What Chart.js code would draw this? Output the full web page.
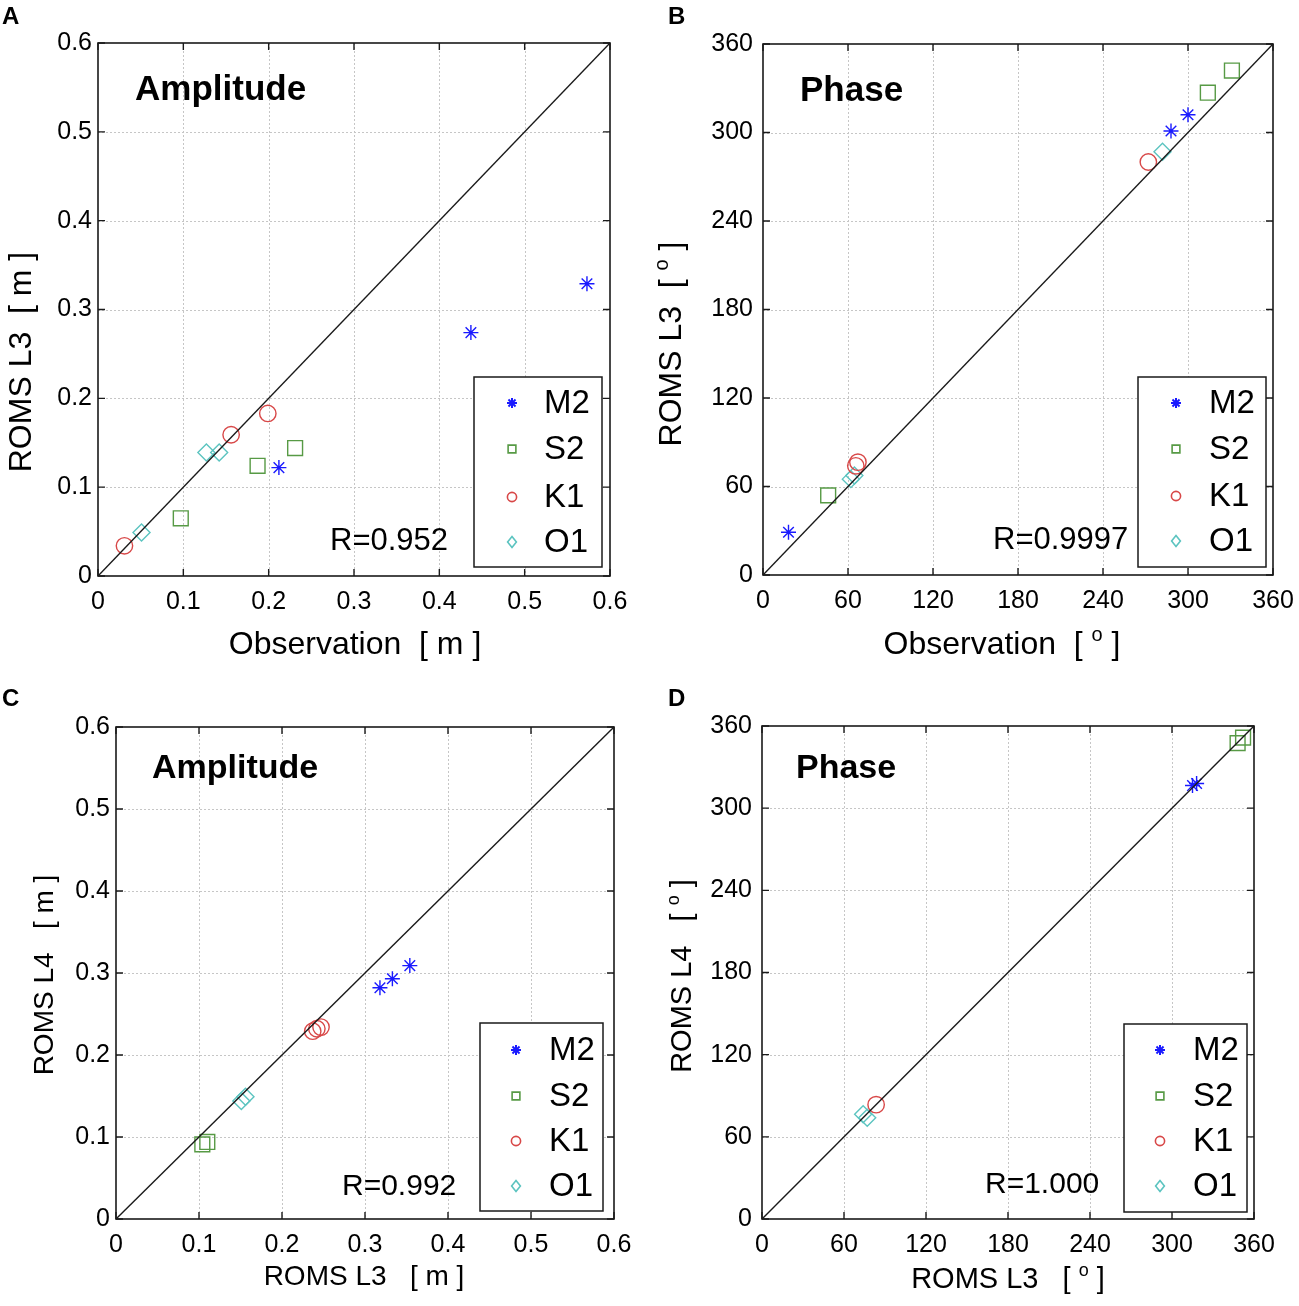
<!DOCTYPE html>
<html>
<head>
<meta charset="utf-8">
<script src="https://cdn.jsdelivr.net/npm/chart.js@4.4.1/dist/chart.umd.min.js"></script>
<style>
html,body{margin:0;padding:0;background:#fff;overflow:hidden;}
#wrap{position:relative;width:1299px;height:1306px;overflow:hidden;background:#fff;}
canvas{position:absolute;left:0;top:0;}
</style>
</head>
<body>
<div id="wrap">
<canvas id="cA" width="1400" height="1306"></canvas>
<canvas id="cB" width="1400" height="1306"></canvas>
<canvas id="cC" width="1400" height="1306"></canvas>
<canvas id="cD" width="1400" height="1306"></canvas>
</div>
<script>
const FONT = "'Liberation Sans', Arial, Helvetica, sans-serif";

// ---------- shared labels / ranges ----------
const constituents = ['M2', 'S2', 'K1', 'O1'];
const ampTickLabels = ['0', '0.1', '0.2', '0.3', '0.4', '0.5', '0.6'];
const phaseTickLabels = ['0', '60', '120', '180', '240', '300', '360'];
const ampRange = [0, 0.6];
const phaseRange = [0, 360];

// ---------- Panel A: amplitude, Observation vs ROMS L3 [m] ----------
const aM2x = [0.212, 0.437, 0.573];
const aM2y = [0.122, 0.274, 0.329];
const aS2x = [0.097, 0.187, 0.231];
const aS2y = [0.065, 0.124, 0.144];
const aK1x = [0.031, 0.156, 0.199];
const aK1y = [0.034, 0.159, 0.183];
const aO1x = [0.051, 0.127, 0.142];
const aO1y = [0.049, 0.139, 0.139];

// ---------- Panel B: phase, Observation vs ROMS L3 [deg] ----------
const bM2x = [18, 288, 300];
const bM2y = [29, 301, 312];
const bS2x = [46, 314, 331];
const bS2y = [54, 327, 342];
const bK1x = [65.5, 67, 272];
const bK1y = [74, 76.5, 280];
const bO1x = [62, 64.5, 282];
const bO1y = [65, 67.5, 287];

// ---------- Panel C: amplitude, ROMS L3 vs ROMS L4 [m] ----------
const cM2x = [0.318, 0.333, 0.354];
const cM2y = [0.282, 0.293, 0.309];
const cS2x = [0.104, 0.110];
const cS2y = [0.091, 0.094];
const cK1x = [0.237, 0.242, 0.247];
const cK1y = [0.229, 0.232, 0.234];
const cO1x = [0.151, 0.156];
const cO1y = [0.144, 0.149];

// ---------- Panel D: phase, ROMS L3 vs ROMS L4 [deg] ----------
const dM2x = [315, 318];
const dM2y = [316.5, 318];
const dS2x = [348, 352];
const dS2y = [347.5, 351.5];
const dK1x = [83.5];
const dK1y = [83.5];
const dO1x = [74, 77];
const dO1y = [76.5, 74];

const rValues = ['R=0.952', 'R=0.9997', 'R=0.992', 'R=1.000'];

// ---------- styles ----------
const STYLE = {
  M2: {color: '#1a1aff', pointStyle: 'star',    radius: 7.5, legR: 5},
  S2: {color: '#579a45', pointStyle: 'rect',    radius: 10.5, legR: 5.5},
  K1: {color: '#d84848', pointStyle: 'circle',  radius: 8.2, legR: 4.6},
  O1: {color: '#5cc4c0', pointStyle: 'rectRot', radius: 8.5, legR: 5.5}
};

function pts(xs, ys) { return xs.map((v, i) => ({x: v, y: ys[i]})); }

function drawMarker(ctx, style, r, x, y) {
  ctx.beginPath();
  if (style === 'star') {
    for (let k = 0; k < 4; k++) {
      const ang = k * Math.PI / 4;
      ctx.moveTo(x - r * Math.cos(ang), y - r * Math.sin(ang));
      ctx.lineTo(x + r * Math.cos(ang), y + r * Math.sin(ang));
    }
  } else if (style === 'rect') {
    const s = r * Math.SQRT1_2;
    ctx.rect(x - s, y - s, 2 * s, 2 * s);
  } else if (style === 'circle') {
    ctx.arc(x, y, r, 0, Math.PI * 2);
  } else {
    ctx.moveTo(x, y - r); ctx.lineTo(x + r * 0.8, y); ctx.lineTo(x, y + r); ctx.lineTo(x - r * 0.8, y); ctx.closePath();
  }
  ctx.stroke();
}

// label made of parts: {t, s (font size), dy}
function drawParts(ctx, parts, cx, cy, rot) {
  ctx.save();
  ctx.translate(cx, cy);
  if (rot) ctx.rotate(-Math.PI / 2);
  let total = 0;
  parts.forEach(p => { ctx.font = p.s + 'px ' + FONT; p.w = ctx.measureText(p.t).width; total += p.w; });
  let x = -total / 2;
  ctx.textBaseline = 'middle';
  ctx.textAlign = 'left';
  ctx.fillStyle = '#000';
  parts.forEach(p => { ctx.font = p.s + 'px ' + FONT; ctx.fillText(p.t, x, p.dy || 0); x += p.w; });
  ctx.restore();
}

function makeDecor(cfg) {
  return {
    id: 'decor' + cfg.letter,
    beforeDatasetsDraw(chart) {
      const {ctx, chartArea: a, scales: {x, y}} = chart;
      ctx.save();
      ctx.strokeStyle = '#c6c6c6';
      ctx.lineWidth = 1;
      ctx.setLineDash([2, 2]);
      x.ticks.forEach(t => {
        const px = Math.round(x.getPixelForValue(t.value)) + 0.5;
        if (px > a.left + 2 && px < a.right - 2) { ctx.beginPath(); ctx.moveTo(px, a.top); ctx.lineTo(px, a.bottom); ctx.stroke(); }
      });
      y.ticks.forEach(t => {
        const py = Math.round(y.getPixelForValue(t.value)) + 0.5;
        if (py > a.top + 2 && py < a.bottom - 2) { ctx.beginPath(); ctx.moveTo(a.left, py); ctx.lineTo(a.right, py); ctx.stroke(); }
      });
      ctx.restore();
    },
    afterDraw(chart) {
      const {ctx, chartArea: a, scales: {x, y}} = chart;
      ctx.save();
      // box
      ctx.strokeStyle = '#1a1a1a';
      ctx.lineWidth = 1.6;
      ctx.strokeRect(a.left, a.top, a.right - a.left, a.bottom - a.top);
      // inward ticks
      ctx.lineWidth = 1.4;
      const TL = 7;
      x.ticks.forEach(t => {
        const px = x.getPixelForValue(t.value);
        ctx.beginPath();
        ctx.moveTo(px, a.bottom); ctx.lineTo(px, a.bottom - TL);
        ctx.moveTo(px, a.top); ctx.lineTo(px, a.top + TL);
        ctx.stroke();
      });
      y.ticks.forEach(t => {
        const py = y.getPixelForValue(t.value);
        ctx.beginPath();
        ctx.moveTo(a.left, py); ctx.lineTo(a.left + TL, py);
        ctx.moveTo(a.right, py); ctx.lineTo(a.right - TL, py);
        ctx.stroke();
      });
      // panel letter
      ctx.fillStyle = '#000';
      ctx.textAlign = 'left';
      ctx.textBaseline = 'alphabetic';
      ctx.font = 'bold 24px ' + FONT;
      ctx.fillText(cfg.letter, cfg.letterPos[0], cfg.letterPos[1]);
      // title
      ctx.font = 'bold ' + cfg.titleSize + 'px ' + FONT;
      ctx.fillText(cfg.title, cfg.titlePos[0], cfg.titlePos[1]);
      // R value
      ctx.font = cfg.rSize + 'px ' + FONT;
      ctx.textBaseline = 'middle';
      ctx.fillText(cfg.rText, cfg.rPos[0], cfg.rPos[1]);
      // legend
      const L = cfg.legend;
      ctx.fillStyle = '#fff';
      ctx.fillRect(L.l, L.t, L.r - L.l, L.b - L.t);
      ctx.strokeStyle = '#1a1a1a';
      ctx.lineWidth = 1.5;
      ctx.strokeRect(L.l, L.t, L.r - L.l, L.b - L.t);
      constituents.forEach((name, i) => {
        const st = STYLE[name];
        ctx.strokeStyle = st.color;
        ctx.lineWidth = name === 'M2' ? 2 : 1.6;
        drawMarker(ctx, st.pointStyle, st.legR, L.mx, L.rows[i]);
        ctx.fillStyle = '#000';
        ctx.font = L.size + 'px ' + FONT;
        ctx.textBaseline = 'middle';
        ctx.textAlign = 'left';
        ctx.fillText(name, L.tx, L.rows[i] + 1);
      });
      // axis labels
      drawParts(ctx, cfg.xLabel, cfg.xLabelPos[0], cfg.xLabelPos[1], false);
      drawParts(ctx, cfg.yLabel, cfg.yLabelPos[0], cfg.yLabelPos[1], true);
      ctx.restore();
    }
  };
}

function datasetsFor(xsArr, ysArr, range, diagW) {
  const ds = [{
    type: 'line',
    data: pts(range, range),
    borderColor: '#1a1a1a',
    borderWidth: diagW,
    pointRadius: 0,
    fill: false
  }];
  constituents.forEach((name, i) => {
    const st = STYLE[name];
    ds.push({
      label: name,
      data: pts(xsArr[i], ysArr[i]),
      pointStyle: st.pointStyle,
      pointRadius: st.radius,
      pointHoverRadius: st.radius,
      pointBorderColor: st.color,
      pointBackgroundColor: 'rgba(0,0,0,0)',
      pointBorderWidth: 1.4,
      showLine: false
    });
  });
  return ds;
}

function makePanel(id, cfg) {
  const W = 1400, H = 1306, YW = 60, XH = 40;
  const A = cfg.area;
  const pad = {left: A.l - YW, top: A.t, right: W - A.r, bottom: H - A.b - XH};
  new Chart(document.getElementById(id), {
    type: 'scatter',
    data: {datasets: datasetsFor(cfg.xs, cfg.ys, cfg.range, 1.4)},
    options: {
      responsive: false,
      animation: false,
      events: [],
      layout: {padding: pad},
      plugins: {legend: {display: false}, tooltip: {enabled: false}, title: {display: false}},
      scales: {
        x: {
          type: 'linear', min: cfg.range[0], max: cfg.range[1],
          grid: {display: false, drawTicks: false},
          border: {display: false},
          ticks: {
            stepSize: cfg.step, autoSkip: false, maxRotation: 0, padding: cfg.xPad,
            color: '#000', font: {family: FONT, size: cfg.tickSize},
            callback: (v, i) => cfg.tickLabels[i]
          },
          afterFit: s => { s.height = XH; }
        },
        y: {
          type: 'linear', min: cfg.range[0], max: cfg.range[1],
          grid: {display: false, drawTicks: false},
          border: {display: false},
          ticks: {
            stepSize: cfg.step, autoSkip: false, padding: cfg.yPad,
            color: '#000', font: {family: FONT, size: cfg.tickSize},
            callback: (v, i) => cfg.tickLabels[i]
          },
          afterFit: s => { s.width = YW; }
        }
      }
    },
    plugins: [makeDecor(cfg)]
  });
}

const deg = (pre, big, small) => [
  {t: pre + '[ ', s: big},
  {t: 'o', s: small, dy: -big * 0.3},
  {t: ' ]', s: big}
];

makePanel('cA', {
  letter: 'A', letterPos: [2, 24],
  area: {l: 98, t: 43, r: 610, b: 576},
  range: ampRange, step: 0.1, tickLabels: ampTickLabels, tickSize: 25, xPad: 11, yPad: 6,
  xs: [aM2x, aS2x, aK1x, aO1x], ys: [aM2y, aS2y, aK1y, aO1y],
  title: 'Amplitude', titleSize: 35, titlePos: [135, 100],
  rText: rValues[0], rSize: 31, rPos: [330, 541],
  legend: {l: 474, t: 377, r: 602, b: 567, mx: 512, tx: 544, rows: [403, 449, 497, 542], size: 33},
  xLabel: [{t: 'Observation  [ m ]', s: 32}], xLabelPos: [355, 645],
  yLabel: [{t: 'ROMS L3  [ m ]', s: 32}], yLabelPos: [22, 362]
});

makePanel('cB', {
  letter: 'B', letterPos: [668, 24],
  area: {l: 763, t: 44, r: 1273, b: 575},
  range: phaseRange, step: 60, tickLabels: phaseTickLabels, tickSize: 25, xPad: 11, yPad: 10,
  xs: [bM2x, bS2x, bK1x, bO1x], ys: [bM2y, bS2y, bK1y, bO1y],
  title: 'Phase', titleSize: 35, titlePos: [800, 101],
  rText: rValues[1], rSize: 31, rPos: [993, 540],
  legend: {l: 1138, t: 377, r: 1266, b: 567, mx: 1176, tx: 1209, rows: [403, 449, 496, 541], size: 33},
  xLabel: deg('Observation  ', 32, 20), xLabelPos: [1002, 645],
  yLabel: deg('ROMS L3  ', 32, 20), yLabelPos: [672, 344]
});

makePanel('cC', {
  letter: 'C', letterPos: [2, 706],
  area: {l: 116, t: 727, r: 614, b: 1219},
  range: ampRange, step: 0.1, tickLabels: ampTickLabels, tickSize: 25, xPad: 11, yPad: 6,
  xs: [cM2x, cS2x, cK1x, cO1x], ys: [cM2y, cS2y, cK1y, cO1y],
  title: 'Amplitude', titleSize: 34, titlePos: [152, 778],
  rText: rValues[2], rSize: 30, rPos: [342, 1187],
  legend: {l: 480, t: 1023, r: 603, b: 1211, mx: 516, tx: 549, rows: [1050, 1096, 1141, 1186], size: 33},
  xLabel: [{t: 'ROMS L3   [ m ]', s: 28}], xLabelPos: [364, 1277],
  yLabel: [{t: 'ROMS L4   [ m ]', s: 28}], yLabelPos: [45, 975]
});

makePanel('cD', {
  letter: 'D', letterPos: [668, 706],
  area: {l: 762, t: 726, r: 1254, b: 1219},
  range: phaseRange, step: 60, tickLabels: phaseTickLabels, tickSize: 25, xPad: 11, yPad: 10,
  xs: [dM2x, dS2x, dK1x, dO1x], ys: [dM2y, dS2y, dK1y, dO1y],
  title: 'Phase', titleSize: 34, titlePos: [796, 778],
  rText: rValues[3], rSize: 30, rPos: [985, 1185],
  legend: {l: 1124, t: 1024, r: 1247, b: 1212, mx: 1160, tx: 1193, rows: [1050, 1096, 1141, 1186], size: 33},
  xLabel: deg('ROMS L3   ', 29, 18), xLabelPos: [1008, 1280],
  yLabel: deg('ROMS L4   ', 29, 18), yLabelPos: [683, 976]
});
</script>
</body>
</html>
